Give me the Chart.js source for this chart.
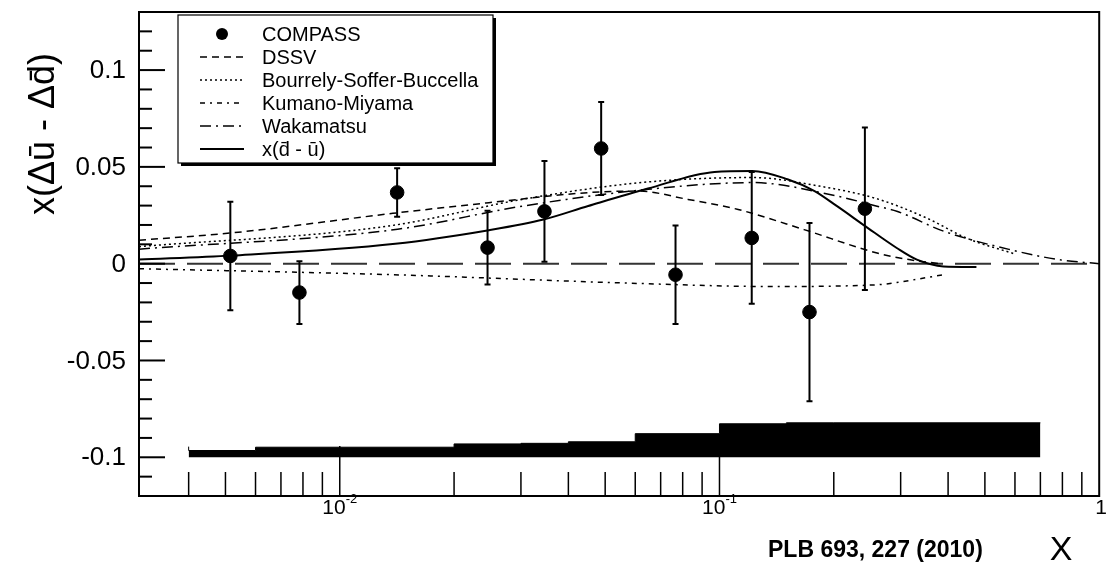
<!DOCTYPE html>
<html>
<head>
<meta charset="utf-8">
<script src="https://cdn.jsdelivr.net/npm/chart.js@4"></script>
<style>
  html, body { margin: 0; padding: 0; background: #fff; }
  #wrap { width: 1107px; height: 574px; }
</style>
</head>
<body>
<div id="wrap"><canvas id="c" width="1107" height="574"></canvas></div>
<script>
// COMPASS points (x, value, stat. error)
const compassX = [0.00515, 0.00783, 0.01416, 0.0245, 0.0346, 0.0488, 0.0766, 0.1216, 0.1726, 0.2415];
const compassY = [0.004, -0.0149, 0.0368, 0.0083, 0.027, 0.0595, -0.0057, 0.0133, -0.025, 0.0284];
const compassErr = [0.028, 0.0162, 0.0125, 0.019, 0.026, 0.024, 0.0254, 0.034, 0.046, 0.042];

// systematic error band (bin edges and heights above the base)
const sysEdges = [0.004, 0.006, 0.02, 0.03, 0.04, 0.06, 0.1, 0.15, 0.2, 0.7];
const sysHeight = [0.0055, 0.0035, 0.0052, 0.0069, 0.0072, 0.008, 0.0122, 0.0173, 0.0178];
const sysBase = -0.1;

// model curves
const dssvX = [0.00296, 0.0052, 0.0138, 0.0247, 0.045, 0.061, 0.0826, 0.112, 0.167, 0.26, 0.318, 0.38];
const dssvY = [0.0121, 0.0159, 0.026, 0.0315, 0.0367, 0.0375, 0.0332, 0.028, 0.0176, 0.0055, 0.002, 0.0];
const bsbX = [0.00296, 0.0135, 0.0302, 0.063, 0.122, 0.183, 0.26, 0.352, 0.45, 0.6];
const bsbY = [0.0088, 0.0195, 0.0332, 0.042, 0.0445, 0.0401, 0.0335, 0.0235, 0.013, 0.005];
const kmX = [0.00296, 0.0138, 0.061, 0.136, 0.26, 0.293, 0.389];
const kmY = [-0.0026, -0.0057, -0.0102, -0.0118, -0.0109, -0.0097, -0.0057];
const wakX = [0.00296, 0.0142, 0.0302, 0.0648, 0.122, 0.204, 0.26, 0.293, 0.389, 0.581, 0.787, 1.0];
const wakY = [0.0075, 0.0178, 0.0297, 0.0384, 0.0419, 0.0349, 0.0297, 0.0271, 0.0168, 0.0073, 0.002, 0.0];
const dbarX = [0.00296, 0.0052, 0.014, 0.0247, 0.0344, 0.0451, 0.0648, 0.097, 0.122, 0.151, 0.178, 0.204, 0.242, 0.293, 0.331, 0.389, 0.475];
const dbarY = [0.0021, 0.0042, 0.0103, 0.0173, 0.0228, 0.0298, 0.0388, 0.0474, 0.0479, 0.0436, 0.0375, 0.0297, 0.0194, 0.0081, 0.0021, -0.0014, -0.0017];
const zeroX = [0.00296, 1];
const zeroY = [0, 0];

// axis labels
const yTickValues = [0.1, 0.05, 0, -0.05, -0.1];
const yTickLabels = ['0.1', '0.05', '0', '-0.05', '-0.1'];
const xTickValues = [0.01, 0.1, 1];
const xTickExp = ['-2', '-1', ''];

const pts = (xs, ys) => xs.map((x, i) => ({ x, y: ys[i] }));
const FONT = '"Liberation Sans", Arial, Helvetica, sans-serif';

const curve = (label, xs, ys, dash, width) => ({
    label,
    data: pts(xs, ys),
    borderColor: '#000',
    backgroundColor: 'transparent',
    borderWidth: width || 1.5,
    borderDash: dash,
    pointRadius: 0,
    cubicInterpolationMode: 'monotone',
    fill: false
});

const decor = {
    id: 'decor',
    afterDatasetsDraw(chart) {
        const { ctx, chartArea: a } = chart;
        const x = chart.scales.x, y = chart.scales.y;
        ctx.save();

        // error bars
        ctx.strokeStyle = '#000';
        ctx.lineWidth = 2;
        ctx.setLineDash([]);
        compassX.forEach((v, i) => {
            const px = x.getPixelForValue(v);
            const top = y.getPixelForValue(compassY[i] + compassErr[i]);
            const bot = y.getPixelForValue(compassY[i] - compassErr[i]);
            ctx.beginPath();
            ctx.moveTo(px, top); ctx.lineTo(px, bot);
            ctx.moveTo(px - 3, top); ctx.lineTo(px + 3, top);
            ctx.moveTo(px - 3, bot); ctx.lineTo(px + 3, bot);
            ctx.stroke();
        });

        // legend box
        const lx = 178, ly = 15, lw = 315, lh = 148;
        ctx.fillStyle = '#000';
        ctx.fillRect(lx + 3, ly + 3, lw, lh);
        ctx.fillStyle = '#fff';
        ctx.fillRect(lx, ly, lw, lh);
        ctx.lineWidth = 1.2;
        ctx.strokeRect(lx, ly, lw, lh);

        const entries = chart.data.datasets.filter(d => d.legendRow !== undefined)
            .sort((p, q) => p.legendRow - q.legendRow);
        ctx.font = '20px ' + FONT;
        ctx.textBaseline = 'middle';
        ctx.textAlign = 'left';
        entries.forEach((d, i) => {
            const cy = 34 + i * 23;
            if (d.showLine === false) {
                ctx.fillStyle = '#000';
                ctx.beginPath();
                ctx.arc(222, cy, 6, 0, Math.PI * 2);
                ctx.fill();
            } else {
                ctx.setLineDash(d.borderDash || []);
                ctx.lineWidth = d.borderWidth;
                ctx.beginPath();
                ctx.moveTo(200, cy);
                ctx.lineTo(244, cy);
                ctx.stroke();
                ctx.setLineDash([]);
            }
            ctx.fillStyle = '#000';
            ctx.fillText(d.label, 262, cy + 1);
        });

        // frame
        ctx.lineWidth = 2;
        ctx.strokeRect(a.left, a.top, a.right - a.left, a.bottom - a.top);

        // y ticks (inside)
        ctx.lineWidth = 2;
        for (let k = -12; k <= 13; k++) {
            const py = y.getPixelForValue(k / 100);
            const len = k % 5 === 0 ? 26 : 13;
            ctx.beginPath();
            ctx.moveTo(a.left, py);
            ctx.lineTo(a.left + len, py);
            ctx.stroke();
        }
        // x ticks (inside, from the bottom)
        ctx.lineWidth = 1.5;
        for (let d = -3; d <= -1; d++) {
            for (let m = 1; m <= 9; m++) {
                const v = m * Math.pow(10, d);
                if (v <= x.min * 1.1 || v >= x.max * 0.999) continue;
                const px = x.getPixelForValue(v);
                const len = m === 1 ? 50 : 24;
                ctx.beginPath();
                ctx.moveTo(px, a.bottom);
                ctx.lineTo(px, a.bottom - len);
                ctx.stroke();
            }
        }

        // y labels
        ctx.fillStyle = '#000';
        ctx.font = '26px ' + FONT;
        ctx.textAlign = 'right';
        ctx.textBaseline = 'middle';
        yTickValues.forEach((v, i) => {
            ctx.fillText(yTickLabels[i], a.left - 13, y.getPixelForValue(v) + 1);
        });

        // x labels 10^n
        ctx.textBaseline = 'alphabetic';
        xTickValues.forEach((v, i) => {
            const px = x.getPixelForValue(v);
            if (xTickExp[i] === '') {
                ctx.font = '21px ' + FONT;
                ctx.textAlign = 'center';
                ctx.fillText('1', px + 2, 514);
                return;
            }
            ctx.font = '21px ' + FONT;
            const w1 = ctx.measureText('10').width;
            ctx.font = '13px ' + FONT;
            const w2 = ctx.measureText(xTickExp[i]).width;
            const x0 = px - (w1 + w2) / 2;
            ctx.textAlign = 'left';
            ctx.font = '21px ' + FONT;
            ctx.fillText('10', x0, 514);
            ctx.font = '13px ' + FONT;
            ctx.fillText(xTickExp[i], x0 + w1, 503);
        });

        // y axis title
        ctx.save();
        ctx.translate(44, 134);
        ctx.rotate(-Math.PI / 2);
        ctx.font = '36px ' + FONT;
        ctx.textAlign = 'center';
        ctx.textBaseline = 'middle';
        ctx.fillText('x(\u0394\u016B - \u0394d\u0304)', 0, 0);
        ctx.restore();

        // x title and reference
        ctx.textAlign = 'left';
        ctx.textBaseline = 'alphabetic';
        ctx.font = 'bold 23px ' + FONT;
        ctx.fillText('PLB 693, 227 (2010)', 768, 557);
        ctx.font = '34px ' + FONT;
        ctx.textAlign = 'center';
        ctx.fillText('X', 1061, 560);

        ctx.restore();
    }
};

new Chart(document.getElementById('c'), {
    type: 'line',
    data: {
        datasets: [
            {
                label: 'COMPASS',
                legendRow: 0,
                data: pts(compassX, compassY),
                showLine: false,
                pointRadius: 6.8,
                pointBackgroundColor: '#000',
                pointBorderColor: '#000',
                borderColor: '#000'
            },
            Object.assign(curve('x(d\u0304 - \u016B)', dbarX, dbarY, [], 2), { legendRow: 5 }),
            Object.assign(curve('DSSV', dssvX, dssvY, [7, 5]), { legendRow: 1 }),
            Object.assign(curve('Bourrely-Soffer-Buccella', bsbX, bsbY, [2, 3]), { legendRow: 2 }),
            Object.assign(curve('Kumano-Miyama', kmX, kmY, [5, 5, 2, 5]), { legendRow: 3 }),
            Object.assign(curve('Wakamatsu', wakX, wakY, [11, 5, 2, 5]), { legendRow: 4 }),
            {
                label: '',
                data: pts(zeroX, zeroY),
                borderColor: '#333',
                borderWidth: 2,
                borderDash: [36, 12],
                pointRadius: 0,
                fill: false
            },
            {
                label: '',
                data: sysEdges.map((e, i) => ({ x: e, y: sysBase + sysHeight[Math.min(i, sysHeight.length - 1)] })),
                stepped: 'after',
                borderColor: '#000',
                backgroundColor: '#000',
                borderWidth: 1,
                pointRadius: 0,
                fill: { value: sysBase }
            }
        ]
    },
    options: {
        responsive: false,
        animation: false,
        devicePixelRatio: 1,
        layout: { padding: { left: 139, top: 12, right: 4, bottom: 78 } },
        plugins: { legend: { display: false }, tooltip: { enabled: false } },
        scales: {
            x: { type: 'logarithmic', min: 0.00296, max: 1, display: false },
            y: { type: 'linear', min: -0.12, max: 0.13, display: false }
        }
    },
    plugins: [decor]
});
</script>
</body>
</html>
